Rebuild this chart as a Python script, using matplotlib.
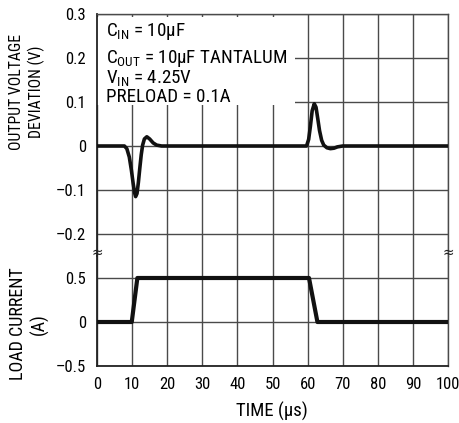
import matplotlib
matplotlib.use("Agg")
import matplotlib.pyplot as plt
from matplotlib.patches import Rectangle
from matplotlib import font_manager

# pick a condensed / narrow sans font if one is installed
cand = None
prefs = ['liberationsansnarrow', 'robotocondensed', 'opensanscondensed', 'notosanscondensed',
         'notosans-condensed', 'dejavusanscondensed', 'condensed', 'narrow']
for p in prefs:
    for f in font_manager.fontManager.ttflist:
        fn = f.fname.lower().replace('_', '').replace(' ', '')
        if p in fn and f.style == 'normal' and f.weight in (400, 'normal', 'regular'):
            cand = f
            break
    if cand:
        break
if cand is not None:
    plt.rcParams['font.family'] = [cand.name, 'DejaVu Sans']
    plt.rcParams['font.stretch'] = cand.stretch
    k = 1.0
else:
    plt.rcParams['font.family'] = ['Liberation Sans', 'DejaVu Sans']
    k = 0.87

# Data
t_v = [0, 7.8, 8.5, 9.2, 9.8, 10.3, 10.7, 11.0, 11.4, 11.8, 12.2, 12.6, 13.0, 13.5, 14.2, 15.0, 16.0, 17.0, 18.4,
       59.7, 60.3, 60.8, 61.3, 61.9, 62.4, 62.9, 63.4, 64.0, 64.6, 65.5, 66.5, 67.5, 68.5, 70, 100]
v_dev = [0, 0, -0.006, -0.025, -0.055, -0.085, -0.106, -0.115, -0.108, -0.082, -0.05, -0.02, 0.002, 0.016, 0.021, 0.016, 0.007, 0.002, 0,
         0, 0.015, 0.045, 0.08, 0.096, 0.088, 0.062, 0.035, 0.013, 0.002, -0.004, -0.006, -0.005, -0.002, 0, 0]
t_i = [0, 9.9, 11.5, 60.4, 62.8, 100]
i_load = [0, 0, 0.5, 0.5, 0, 0]
x_ticks = [0, 10, 20, 30, 40, 50, 60, 70, 80, 90, 100]
v_ticks = [0.3, 0.2, 0.1, 0, -0.1, -0.2]
v_labels = ['0.3', '0.2', '0.1', '0', '\u20130.1', '\u20130.2']
i_ticks = [0.5, 0, -0.5]
i_labels = ['0.5', '0', '\u20130.5']
notes = ['C$_{\\mathregular{IN}}$ = 10\u00b5F', 'C$_{\\mathregular{OUT}}$ = 10\u00b5F TANTALUM',
         'V$_{\\mathregular{IN}}$ = 4.25V', 'PRELOAD = 0.1A']
note_y = [31.5, 58.5, 78.5, 96.5]

W, H = 459, 423
fig = plt.figure(figsize=(W / 100, H / 100), dpi=100)
L, R = 97 / W, 448 / W
top_px, mid_px, bot_px = 14, 256, 366
ax1 = fig.add_axes([L, 1 - mid_px / H, R - L, (mid_px - top_px) / H])
ax2 = fig.add_axes([L, 1 - bot_px / H, R - L, (bot_px - mid_px) / H])

gc = '#4a4a4a'
fs = 12 * k
for ax in (ax1, ax2):
    ax.set_xlim(0, 100)
    ax.set_xticks(x_ticks)
    ax.grid(True, color=gc, linewidth=1.0)
    ax.tick_params(length=0, labelsize=fs, pad=8)
    for s in ax.spines.values():
        s.set_color(gc)
        s.set_linewidth(1.0)
    ax.spines['left'].set_color('#222222')
    ax.spines['left'].set_linewidth(1.3)
    ax.set_axisbelow(True)

ax1.set_ylim(-0.25, 0.3)
ax1.set_yticks(v_ticks)
ax1.set_yticklabels(v_labels)
ax1.tick_params(axis='x', labelbottom=False)
ax1.spines['bottom'].set_visible(False)
ax1.plot(t_v, v_dev, color='#111111', linewidth=2.6, solid_capstyle='butt',
         solid_joinstyle='round', zorder=4)

ax2.set_ylim(-0.5, 0.75)
ax2.set_yticks(i_ticks)
ax2.set_yticklabels(i_labels)
ax2.set_xticklabels([str(x) for x in x_ticks])
ax2.spines['top'].set_visible(False)
ax2.spines['bottom'].set_color('#222222')
ax2.spines['bottom'].set_linewidth(1.3)
ax2.plot(t_i, i_load, color='#111111', linewidth=3.0, solid_capstyle='butt', zorder=4)

fig.text(272 / W, 1 - 411 / H, 'TIME (\u00b5s)', fontsize=13.5 * k, ha='center', va='center')

# white annotation box (pixels 97..295 x, 17..105 y)
h1 = mid_px - top_px
ax1.add_patch(Rectangle((0, 1 - (105 - top_px) / h1), (295 - 97) / (448 - 97), (105 - 17) / h1,
                        transform=ax1.transAxes, facecolor='white', edgecolor='none', zorder=2))
for s, yp in zip(notes, note_y):
    fig.text(106 / W, 1 - yp / H, s, fontsize=13.7 * k, va='center', ha='left', zorder=5)

fig.text(27 / W, 1 - 92 / H, 'OUTPUT VOLTAGE\nDEVIATION (V)', rotation=90, fontsize=11.3 * k,
         ha='center', va='center', multialignment='center', linespacing=1.35)
fig.text(29 / W, 1 - 324 / H, 'LOAD CURRENT\n(A)', rotation=90, fontsize=13 * k,
         ha='center', va='center', multialignment='center', linespacing=1.15)

# break marks
for xp in (97, 448):
    fig.text(xp / W, 1 - 252 / H, '\u2248', fontsize=11, ha='center', va='center',
             family='DejaVu Sans', color='#222222')

fig.savefig('out.png', dpi=100)
